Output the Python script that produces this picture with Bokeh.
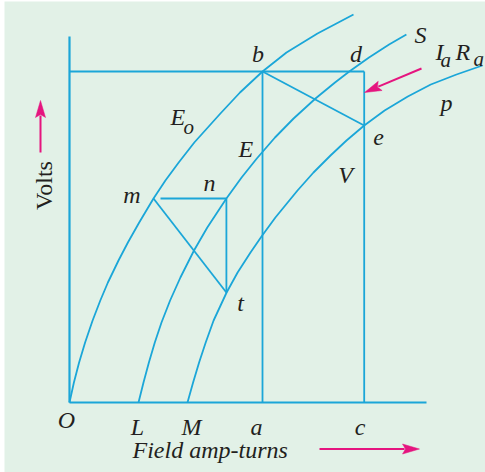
from bokeh.plotting import figure
from bokeh.models import Range1d
from bokeh.core.properties import value
from bokeh.embed import file_html
from bokeh.resources import INLINE
import math

# Open-circuit characteristic E0 (field amp-turns, volts)
e0_at = [0, 4.4, 9.6, 15.6, 23.1, 30.8, 38.4, 49.0, 58.4, 69.7, 84.0, 95.9,
         109.2, 124.8, 150.9, 170.5, 193.0, 217.0, 248.0, 284.0]
e0_volts = [0, 20, 40, 60, 82, 102, 120, 142, 160, 180, 204, 222,
            240, 260, 289, 310, 331, 350, 369, 388]

# Total induced e.m.f. curve E (shifted by armature reaction)
e_at = [69, 74.0, 79.4, 85.3, 92.0, 100.6, 110.9, 124.5, 137.8, 156.9, 172.1,
        187.3, 205.5, 224.1, 246.0, 265.5, 279.8, 299.5, 319.6, 336.9]
e_volts = [0, 20, 40, 60, 80, 102, 125, 152, 175, 204, 225,
           244, 265, 284, 304, 320, 331, 345, 358, 368]

# External characteristic V (terminal voltage)
v_at = [118, 123.6, 129.6, 136.2, 144.1, 157.1, 168.1, 181.0, 192.0, 205.9,
        228.0, 244.0, 261.0, 277.0, 294.7, 315.1, 338.3, 361.3, 387.0, 412.9]
v_volts = [0, 20, 40, 60, 82, 110, 130, 150, 166, 185,
           212, 230, 247, 262, 277, 292, 306, 318, 328, 337]

# Construction points on the diagram
at_L, at_M, at_a, at_c = 69, 118, 193, 294.7
volts_bd = 331
m_pt = (84, 204)
n_pt = (156.9, 204)
t_pt = (156.9, 110)
b_pt = (193, 331)
e_pt = (294.7, 277)
axis_at_max, axis_volts_max = 357, 366

BG = "#e2f1e7"
LINE = "#1ba6d8"
PINK = "#e5157f"
INK = "#231f20"
FONT = value("Liberation Serif")
FS = "24px"
SUB_FS = "21px"

p = figure(width=485, height=472,
           x_range=Range1d(-65, 416), y_range=Range1d(-70, 401),
           output_backend="svg", toolbar_location=None,
           x_axis_location=None, y_axis_location=None,
           min_border_left=4, min_border_top=1,
           min_border_right=0, min_border_bottom=0,
           background_fill_color=BG, border_fill_color="white")
p.grid.visible = False
p.outline_line_color = None

# axes
p.line([0, axis_at_max], [0, 0], line_color=LINE, line_width=2.2)
p.line([0, 0], [0, axis_volts_max], line_color=LINE, line_width=2.2)

# characteristics
for xs, ys in ((e0_at, e0_volts), (e_at, e_volts), (v_at, v_volts)):
    p.line(xs, ys, line_color=LINE, line_width=1.8, line_join="round")

# construction lines
segs = [
    ([0, at_c], [volts_bd, volts_bd]),
    ([at_a, at_a], [0, volts_bd]),
    ([at_c, at_c], [0, volts_bd]),
    ([b_pt[0], e_pt[0]], [b_pt[1], e_pt[1]]),
    ([m_pt[0] + 7, n_pt[0]], [m_pt[1], n_pt[1]]),
    ([n_pt[0], t_pt[0]], [n_pt[1], t_pt[1]]),
    ([m_pt[0], t_pt[0]], [m_pt[1], t_pt[1]]),
]
for xs, ys in segs:
    p.line(xs, ys, line_color=LINE, line_width=1.8)


def arrow(tail, tip, head_len=17, half_w=5):
    dx, dy = tip[0] - tail[0], tip[1] - tail[1]
    L = math.hypot(dx, dy)
    ux, uy = dx / L, dy / L
    bx, by = tip[0] - ux * head_len, tip[1] - uy * head_len
    p.line([tail[0], bx + ux * 2], [tail[1], by + uy * 2], line_color=PINK, line_width=2)
    p.patch([tip[0], bx - uy * half_w, bx + ux * 3, bx + uy * half_w],
            [tip[1], by + ux * half_w, by + uy * 3, by - ux * half_w],
            fill_color=PINK, line_color=PINK, line_width=0.5)


arrow((352, 334), (295, 310))
arrow((-29, 250), (-29, 302))
arrow((250, -46.5), (350, -46.5))

DY = 6  # lift labels onto their baselines

# italic letter labels, centred
lab_text = ["b", "d", "S", "e", "p", "V", "m", "n", "t", "O", "L", "M", "a", "c"]
lab_x = [188.5, 286.5, 351, 309, 377, 276, 62.5, 140, 171, -3, 68, 122, 187, 290.5]
lab_y = [343, 343, 362, 259, 294, 222, 202, 214, 94, -23, -30, -30, -30, -30]
p.text(x=lab_x, y=[v + DY for v in lab_y], text=lab_text, text_font=FONT,
       text_font_style="italic", text_font_size=FS, text_align="center",
       text_baseline="alphabetic", text_color=INK)

# left-aligned labels
left_text = ["E", "E", "I", "R", "Field amp-turns"]
left_x = [101, 169, 366, 386, 63]
left_y = [280, 248, 345, 345, -53]
p.text(x=left_x, y=[v + DY for v in left_y], text=left_text, text_font=FONT,
       text_font_style="italic", text_font_size=FS, text_align="left",
       text_baseline="alphabetic", text_color=INK)

# subscripts
sub_text = ["o", "a", "a"]
sub_x = [114, 371, 404]
sub_y = [270, 337, 338]
p.text(x=sub_x, y=[v + DY for v in sub_y], text=sub_text, text_font=FONT,
       text_font_style="italic", text_font_size=SUB_FS, text_align="left",
       text_baseline="alphabetic", text_color=INK)

# vertical axis title
p.text(x=[-20 - DY], y=[217], text=["Volts"], angle=math.pi / 2, text_font=FONT,
       text_font_size=FS, text_align="center", text_baseline="alphabetic",
       text_color=INK)

open("out.html", "w").write(file_html(p, INLINE))
